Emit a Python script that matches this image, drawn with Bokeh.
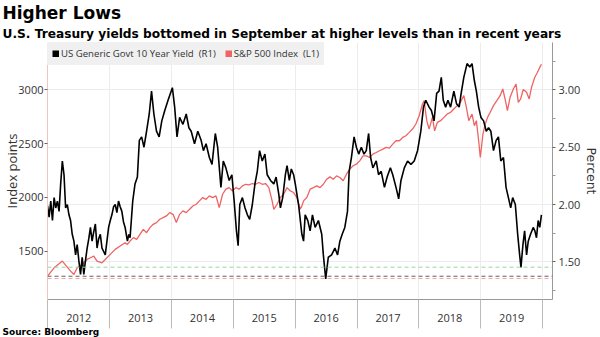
from bokeh.plotting import figure
from bokeh.models import (Range1d, LinearAxis, FixedTicker, NumeralTickFormatter,
                          Span, Legend, LegendItem, Title)
from bokeh.embed import file_html
from bokeh.resources import INLINE

# ---------------- data ----------------
title_text = "Higher Lows"
subtitle_text = "U.S. Treasury yields bottomed in September at higher levels than in recent years"
source_text = "Source: Bloomberg"
left_label = "Index points"
right_label = "Percent"

year_starts = [2012, 2013, 2014, 2015, 2016, 2017, 2018, 2019, 2020]
year_mids = [2012.5, 2013.5, 2014.5, 2015.5, 2016.5, 2017.5, 2018.5, 2019.5]
year_labels = ["2012", "2013", "2014", "2015", "2016", "2017", "2018", "2019"]

left_ticks = [1500, 2000, 2500, 3000]
right_ticks = [1.5, 2.0, 2.5, 3.0]
right_minor_ticks = [1.25, 1.75, 2.25, 2.75, 3.25]

# reference lows (percent): 2019 low, 2012 low, 2016 low
low_levels = [1.453, 1.374, 1.354]
low_colors = ["#9ad89a", "#6e5a5a", "#f0a4a4"]

# US Generic Govt 10 Year Yield (percent), time in decimal years
yield_t = [2011.995, 2012.021, 2012.048, 2012.075, 2012.102, 2012.128, 2012.155, 2012.182,
           2012.208, 2012.235, 2012.262, 2012.288, 2012.315, 2012.342, 2012.368, 2012.395,
           2012.422, 2012.449, 2012.475, 2012.502, 2012.529, 2012.556, 2012.582, 2012.609,
           2012.636, 2012.662, 2012.689, 2012.716, 2012.742, 2012.769, 2012.796, 2012.822,
           2012.849, 2012.876, 2012.903, 2012.929, 2012.956, 2012.983, 2013.010, 2013.036,
           2013.063, 2013.090, 2013.117, 2013.143, 2013.170, 2013.197, 2013.223, 2013.250,
           2013.287, 2013.310, 2013.330, 2013.373, 2013.410, 2013.448, 2013.480, 2013.517,
           2013.555, 2013.597, 2013.640, 2013.677, 2013.715, 2013.757, 2013.800, 2013.843,
           2013.891, 2013.944, 2014.014, 2014.051, 2014.089, 2014.131, 2014.185, 2014.238,
           2014.281, 2014.318, 2014.372, 2014.425, 2014.479, 2014.516, 2014.559, 2014.612,
           2014.655, 2014.708, 2014.746, 2014.799, 2014.837, 2014.879, 2014.933, 2014.976,
           2015.013, 2015.050, 2015.077, 2015.104, 2015.146, 2015.189, 2015.227, 2015.264,
           2015.307, 2015.349, 2015.387, 2015.424, 2015.467, 2015.510, 2015.547, 2015.601,
           2015.654, 2015.691, 2015.734, 2015.761, 2015.798, 2015.841, 2015.868, 2015.905,
           2015.937, 2015.974, 2016.001, 2016.054, 2016.108, 2016.135, 2016.161, 2016.204,
           2016.241, 2016.279, 2016.322, 2016.375, 2016.429, 2016.455, 2016.493, 2016.535,
           2016.589, 2016.642, 2016.685, 2016.722, 2016.760, 2016.802, 2016.845, 2016.872,
           2016.909, 2016.952, 2016.989, 2017.027, 2017.069, 2017.112, 2017.149, 2017.187,
           2017.219, 2017.256, 2017.310, 2017.347, 2017.390, 2017.443, 2017.486, 2017.539,
           2017.577, 2017.630, 2017.673, 2017.710, 2017.764, 2017.817, 2017.871, 2017.924,
           2017.978, 2018.031, 2018.074, 2018.111, 2018.165, 2018.202, 2018.245, 2018.287,
           2018.325, 2018.362, 2018.394, 2018.432, 2018.469, 2018.512, 2018.565, 2018.608,
           2018.651, 2018.683, 2018.726, 2018.779, 2018.822, 2018.859, 2018.897, 2018.929,
           2018.966, 2019.003, 2019.046, 2019.089, 2019.126, 2019.163, 2019.206, 2019.249,
           2019.286, 2019.324, 2019.367, 2019.409, 2019.447, 2019.484, 2019.516, 2019.559,
           2019.597, 2019.629, 2019.650, 2019.682, 2019.709, 2019.741, 2019.768, 2019.805,
           2019.848, 2019.875, 2019.901, 2019.928, 2019.954, 2019.981]
yield_v = [1.99, 1.89, 2.03, 1.86, 2.06, 1.97, 2.03, 1.94,
           2.18, 2.38, 2.26, 1.97, 2.00, 1.91, 1.86, 1.74,
           1.68, 1.56, 1.65, 1.51, 1.39, 1.54, 1.39, 1.51,
           1.62, 1.70, 1.80, 1.68, 1.76, 1.83, 1.62, 1.70,
           1.74, 1.62, 1.59, 1.56, 1.68, 1.80, 1.86, 1.91,
           1.98, 2.00, 1.93, 2.03, 1.98, 1.94, 1.85, 1.80,
           1.68, 1.74, 1.71, 2.03, 2.18, 2.24, 2.56, 2.59,
           2.50, 2.64, 2.79, 2.99, 2.79, 2.64, 2.59, 2.73,
           2.82, 2.91, 3.02, 2.85, 2.59, 2.76, 2.70, 2.79,
           2.67, 2.64, 2.53, 2.64, 2.56, 2.47, 2.53, 2.41,
           2.35, 2.62, 2.50, 2.15, 2.38, 2.32, 2.21, 2.26,
           2.03, 1.77, 1.64, 2.00, 2.06, 1.97, 1.91, 1.87,
           2.00, 2.18, 2.29, 2.47, 2.38, 2.44, 2.26, 2.21,
           2.18, 2.24, 2.09, 1.97, 2.06, 2.26, 2.34, 2.21,
           2.31, 2.26, 2.18, 2.00, 1.74, 1.68, 1.91, 1.86,
           1.77, 1.91, 1.80, 1.86, 1.74, 1.56, 1.35, 1.54,
           1.56, 1.62, 1.56, 1.68, 1.74, 1.80, 1.94, 2.29,
           2.41, 2.59, 2.50, 2.44, 2.50, 2.44, 2.47, 2.62,
           2.41, 2.32, 2.38, 2.26, 2.29, 2.15, 2.24, 2.32,
           2.26, 2.15, 2.05, 2.21, 2.32, 2.38, 2.35, 2.38,
           2.47, 2.64, 2.85, 2.91, 2.85, 2.82, 2.73, 2.97,
           2.99, 3.11, 2.91, 2.85, 2.91, 2.85, 2.99, 2.88,
           2.85, 2.97, 3.11, 3.23, 3.20, 3.23, 3.08, 2.99,
           2.85, 2.76, 2.73, 2.64, 2.67, 2.64, 2.47, 2.56,
           2.59, 2.38, 2.41, 2.15, 2.06, 1.97, 2.06, 2.00,
           1.74, 1.56, 1.45, 1.65, 1.77, 1.56, 1.68, 1.74,
           1.80, 1.77, 1.71, 1.86, 1.80, 1.91]

# S&P 500 Index (index points), time in decimal years
spx_t = [2011.995, 2012.102, 2012.182, 2012.235, 2012.288, 2012.369, 2012.422, 2012.475,
         2012.556, 2012.636, 2012.689, 2012.743, 2012.796, 2012.876, 2012.929, 2013.010,
         2013.090, 2013.170, 2013.250, 2013.287, 2013.330, 2013.384, 2013.437, 2013.490,
         2013.544, 2013.597, 2013.651, 2013.704, 2013.757, 2013.811, 2013.864, 2013.918,
         2013.971, 2014.025, 2014.078, 2014.131, 2014.185, 2014.238, 2014.292, 2014.345,
         2014.399, 2014.452, 2014.505, 2014.559, 2014.612, 2014.666, 2014.719, 2014.772,
         2014.826, 2014.879, 2014.933, 2014.986, 2015.040, 2015.093, 2015.146, 2015.200,
         2015.253, 2015.307, 2015.360, 2015.413, 2015.467, 2015.520, 2015.574, 2015.627,
         2015.654, 2015.707, 2015.761, 2015.814, 2015.868, 2015.921, 2015.974, 2016.028,
         2016.081, 2016.108, 2016.135, 2016.188, 2016.241, 2016.295, 2016.349, 2016.402,
         2016.455, 2016.509, 2016.562, 2016.616, 2016.669, 2016.722, 2016.776, 2016.829,
         2016.883, 2016.936, 2016.989, 2017.043, 2017.096, 2017.149, 2017.203, 2017.256,
         2017.310, 2017.363, 2017.417, 2017.470, 2017.523, 2017.577, 2017.630, 2017.684,
         2017.737, 2017.790, 2017.844, 2017.897, 2017.951, 2018.004, 2018.058, 2018.084,
         2018.127, 2018.165, 2018.218, 2018.255, 2018.298, 2018.351, 2018.405, 2018.458,
         2018.512, 2018.565, 2018.619, 2018.672, 2018.726, 2018.768, 2018.806, 2018.859,
         2018.897, 2018.929, 2018.966, 2018.993, 2019.035, 2019.073, 2019.110, 2019.153,
         2019.206, 2019.260, 2019.313, 2019.356, 2019.393, 2019.431, 2019.474, 2019.527,
         2019.570, 2019.607, 2019.645, 2019.687, 2019.741, 2019.783, 2019.821, 2019.874,
         2019.917, 2019.954, 2019.981]
spx_v = [1267, 1344, 1382, 1407, 1369, 1313, 1282, 1344,
         1375, 1422, 1438, 1453, 1407, 1391, 1422, 1469,
         1516, 1547, 1578, 1562, 1593, 1625, 1609, 1656,
         1702, 1671, 1718, 1749, 1765, 1796, 1811, 1827,
         1858, 1842, 1765, 1842, 1874, 1858, 1889, 1920,
         1936, 1967, 1998, 1982, 2014, 1998, 2014, 1905,
         2029, 2076, 2091, 2060, 2091, 2076, 2107, 2122,
         2116, 2129, 2122, 2138, 2122, 2129, 2091, 1967,
         1889, 1936, 1998, 2029, 2091, 2060, 2045, 1998,
         1889, 1920, 1967, 1998, 2076, 2091, 2107, 2091,
         2122, 2169, 2191, 2169, 2200, 2185, 2154, 2216,
         2263, 2294, 2309, 2340, 2387, 2387, 2371, 2403,
         2418, 2434, 2449, 2465, 2459, 2496, 2527, 2527,
         2558, 2574, 2605, 2636, 2683, 2760, 2869, 2900,
         2714, 2636, 2745, 2620, 2698, 2714, 2745, 2776,
         2792, 2823, 2854, 2885, 2947, 2838, 2714, 2776,
         2667, 2714, 2527, 2371, 2589, 2683, 2745, 2792,
         2854, 2900, 2947, 3009, 2916, 2807, 2932, 3009,
         3056, 2885, 2916, 3004, 2978, 2916, 3025, 3118,
         3165, 3210, 3240]

# ---------------- figure ----------------
FONT = "Open Sans"
TXT = "#333333"

p = figure(width=600, height=337, output_backend="svg", toolbar_location=None,
           x_range=Range1d(2011.995, 2020.16), y_range=Range1d(1049, 3442),
           min_border_left=47, min_border_right=44, min_border_top=42, min_border_bottom=38,
           background_fill_color="white", border_fill_color="white")
p.outline_line_color = None

# extra range for the yield
p.extra_y_ranges = {"yield": Range1d(1.171, 3.414)}

# grids
p.xgrid.ticker = FixedTicker(ticks=year_starts)
p.xgrid.grid_line_color = "#ececec"
p.ygrid.y_range_name = "yield"
p.ygrid.ticker = FixedTicker(ticks=right_ticks)
p.ygrid.grid_line_color = "#ececec"

# x axis: labels at mid-year, long separator ticks at year starts
xa = p.xaxis[0]
xa.ticker = FixedTicker(ticks=year_mids, minor_ticks=year_starts)
xa.major_label_overrides = {m: lab for m, lab in zip(year_mids, year_labels)}
xa.major_tick_out = 0
xa.major_tick_in = 0
xa.minor_tick_out = 29
xa.minor_tick_in = 0
xa.minor_tick_line_color = "#bbbbbb"
xa.axis_line_color = "#999999"
xa.major_label_standoff = -15
xa.major_label_text_font = FONT
xa.major_label_text_font_size = "11px"
xa.major_label_text_color = TXT

# left axis (S&P)
ya = p.yaxis[0]
ya.ticker = FixedTicker(ticks=left_ticks)
ya.axis_line_color = "#f2c4c4"
ya.major_tick_out = 3
ya.major_tick_in = 0
ya.major_tick_line_color = "#666666"
ya.minor_tick_out = 0
ya.minor_tick_in = 0
ya.major_label_standoff = 1
ya.major_label_text_font = FONT
ya.major_label_text_font_size = "11px"
ya.major_label_text_color = TXT
ya.axis_label = left_label
ya.axis_label_text_font = FONT
ya.axis_label_text_font_size = "13px"
ya.axis_label_text_font_style = "normal"
ya.axis_label_text_color = TXT
ya.axis_label_standoff = -6

# right axis (yield); its title is a side Title placed just outside the axis
ra = LinearAxis(y_range_name="yield",
                ticker=FixedTicker(ticks=right_ticks, minor_ticks=right_minor_ticks),
                formatter=NumeralTickFormatter(format="0.00"))
ra.axis_line_color = "#999999"
ra.major_tick_out = 3
ra.major_tick_in = 0
ra.minor_tick_out = 3
ra.minor_tick_in = 0
ra.major_tick_line_color = "#666666"
ra.minor_tick_line_color = "#999999"
ra.major_label_standoff = 3
ra.major_label_text_font = FONT
ra.major_label_text_font_size = "11px"
ra.major_label_text_color = TXT
p.add_layout(ra, "right")
p.add_layout(Title(text=right_label, align="center", standoff=0,
                   text_font="DejaVu Sans", text_font_style="normal", text_font_size="12.5px",
                   text_color=TXT), "right")

# reference low lines
for lvl, col in zip(low_levels, low_colors):
    p.add_layout(Span(location=lvl, dimension="width", y_range_name="yield",
                      line_color=col, line_dash="4 3", line_width=1))

# series
RED = "#ee6464"
p.line(spx_t, spx_v, color=RED, line_width=1.3)
p.line(yield_t, yield_v, color="black", line_width=1.6, y_range_name="yield")

# legend-only renderers (square swatches)
leg_y = p.line(yield_t, yield_v, color="black", line_width=7, y_range_name="yield", visible=False)
leg_s = p.line(spx_t, spx_v, color=RED, line_width=7, visible=False)
legend = Legend(items=[LegendItem(label="US Generic Govt 10 Year Yield \u00a0(R1)", renderers=[leg_y]),
                       LegendItem(label="S&P 500 Index \u00a0(L1)", renderers=[leg_s])],
                location="top_left", orientation="horizontal", margin=0, padding=5,
                spacing=9, label_standoff=2, glyph_width=7, glyph_height=7, label_height=10,
                label_text_font=FONT, label_text_font_size="9.6px", label_text_color=TXT,
                background_fill_color="#f0f0f0", background_fill_alpha=1.0,
                border_line_alpha=0, inactive_fill_alpha=0)
p.add_layout(legend)

# titles
p.add_layout(Title(text=subtitle_text, align="left", offset=-45, standoff=4,
                   text_font="DejaVu Sans", text_font_style="bold", text_font_size="12.2px",
                   text_color="black"), "above")
p.add_layout(Title(text=title_text, align="left", offset=-45, standoff=0,
                   text_font="DejaVu Sans", text_font_style="bold", text_font_size="17px",
                   text_color="black"), "above")
p.add_layout(Title(text=source_text, align="left", offset=-45, standoff=0,
                   text_font="DejaVu Sans", text_font_style="bold", text_font_size="9px",
                   text_color="black"), "below")

open("out.html", "w").write(file_html(p, INLINE))
